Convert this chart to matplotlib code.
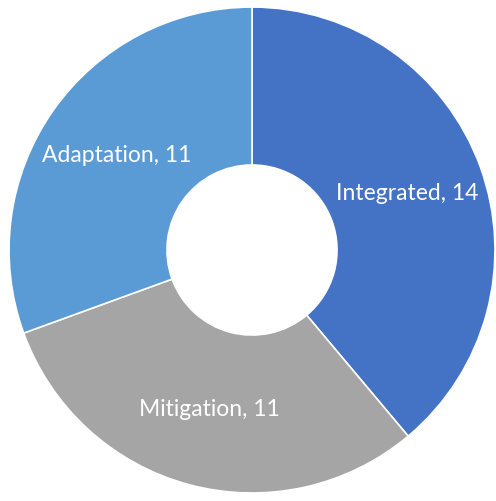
import matplotlib
matplotlib.use("Agg")
import matplotlib.pyplot as plt

categories = ["Integrated", "Mitigation", "Adaptation"]
counts = [14, 11, 11]
colors = ["#4472C4", "#A5A5A5", "#5B9BD5"]

fig = plt.figure(figsize=(4.96, 5.01), dpi=100)
ax = fig.add_axes([0, 0, 1, 1])

labels = [f"{c}, {n}" for c, n in zip(categories, counts)]
wedges, texts = ax.pie(
    counts,
    labels=labels,
    colors=colors,
    startangle=90,
    counterclock=False,
    labeldistance=0.68,
    wedgeprops=dict(width=0.65, edgecolor="white", linewidth=1.2),
    textprops=dict(color="white", fontsize=16.5, family="Lato"),
)
for t in texts:
    t.set_horizontalalignment("center")
    t.set_verticalalignment("center")

ax.set_xlim(-1.037, 1.004)
ax.set_ylim(-1.033, 1.029)
ax.set_aspect("equal")
ax.axis("off")

fig.savefig("out.png", dpi=100)
